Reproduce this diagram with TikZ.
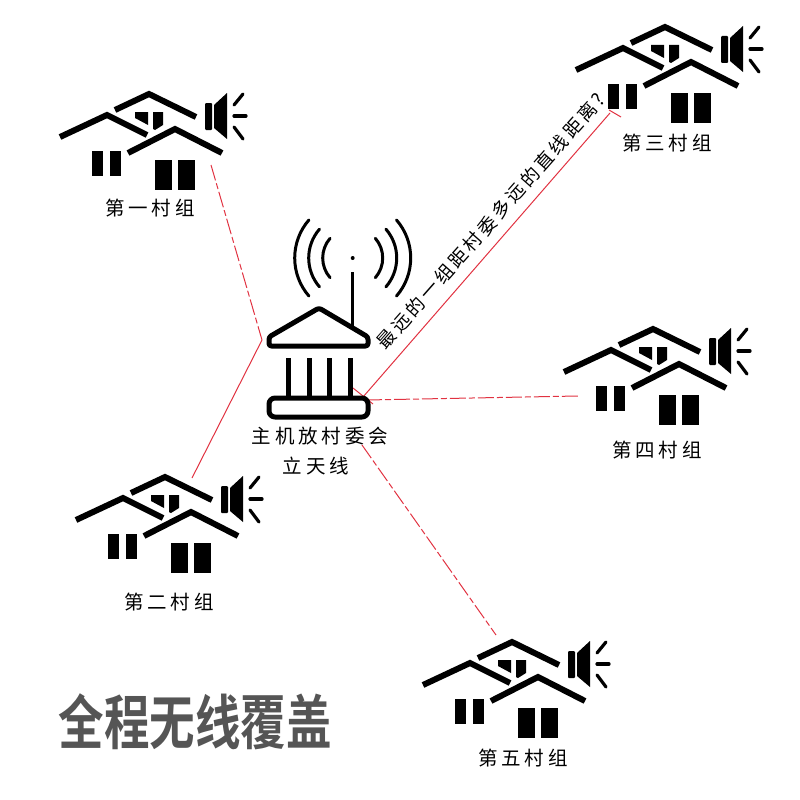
\documentclass[tikz,border=0pt]{standalone}
\usepackage{fontspec}
\setmainfont{Noto Sans CJK SC}
\newfontfamily\lab[LetterSpace=20]{Noto Sans CJK SC}
\newfontfamily\slab[LetterSpace=17]{Noto Sans CJK SC}
\newfontfamily\ttl{Noto Sans CJK SC Bold}
\definecolor{lnred}{RGB}{225,50,65}
\definecolor{ttlgray}{RGB}{85,85,85}
\tikzset{
  roofline/.style={line width=6pt,black,miter limit=10},
  solidbox/.style={fill=black,draw=none},
  rayline/.style={line width=3.2pt,black,line cap=round},
  wave/.style={line width=3pt,black,line cap=round},
  icon/.style={line width=5pt,black,line join=round},
  redsolid/.style={lnred,line width=1pt},
  reddash/.style={lnred,line width=1pt,dash pattern=on 16pt off 3pt on 6pt off 3pt},
  caption/.style={font=\lab\fontsize{19.5}{22}\selectfont,text=black,inner sep=0pt},
  house/.pic={
    \draw[roofline] (60,137)--(107,115)--(147,135);
    \draw[roofline] (115,110)--(149,94)--(196,117);
    \draw[roofline] (128,153)--(175,129)--(222,153);
    \fill[solidbox] (135,112)--(148,112)--(148,125)--(135,118)--cycle;
    \fill[solidbox] (153,112)--(163,112)--(163,125)--(155,130)--(153,129)--cycle;
    \fill[solidbox] (92,151) rectangle (103,176);
    \fill[solidbox] (110,151) rectangle (121,176);
    \fill[solidbox] (155,160) rectangle (172,190);
    \fill[solidbox] (178,160) rectangle (195,190);
    \fill[solidbox,rounded corners=1pt] (205,103) rectangle (212,130);
    \fill[solidbox] (214,105)--(227,93)--(227,139)--(214,128)--cycle;
    \draw[rayline] (234,105)--(243,94);
    \draw[rayline] (234,116)--(246,116);
    \draw[rayline] (234,127)--(243,139);
  }
}
\begin{document}
\begin{tikzpicture}[x=1pt,y=-1pt]
\useasboundingbox (0,0) rectangle (800,800);
% named end points of the links
\coordinate (c1) at (211,165);
\coordinate (bend) at (262,340);
\coordinate (c2) at (192,478);
\coordinate (hub3) at (363,397);
\coordinate (c3) at (610,113);
\coordinate (t1) at (609,110);
\coordinate (t2) at (621,117);
\coordinate (hub4) at (366,400);
\coordinate (c4) at (578,396);
\coordinate (s1) at (353,388);
\coordinate (s2) at (373,404);
\coordinate (hub5) at (362,445);
\coordinate (c5) at (496,635);
% links
\draw[reddash] (c1)--(bend);
\draw[redsolid] (bend)--(c2);
\draw[redsolid] (hub3)--(c3);
\draw[redsolid] (t1)--(t2);
\draw[reddash] (hub4)--(c4);
\draw[redsolid] (s1)--(s2);
\draw[reddash] (hub5)--(c5);
% houses
\pic at (0,0) {house};
\pic at (16,383) {house};
\pic at (516,-67) {house};
\pic at (504,235) {house};
\pic at (363,548) {house};
% antenna
\draw[wave] (352.7,258) ++(139:30) arc[start angle=139,end angle=221,radius=30];
\draw[wave] (352.7,258) ++(139:44) arc[start angle=139,end angle=221,radius=44];
\draw[wave] (352.7,258) ++(139:58) arc[start angle=139,end angle=221,radius=58];
\draw[wave] (352.7,258) ++(41:30) arc[start angle=41,end angle=-41,radius=30];
\draw[wave] (352.7,258) ++(41:44) arc[start angle=41,end angle=-41,radius=44];
\draw[wave] (352.7,258) ++(41:58) arc[start angle=41,end angle=-41,radius=58];
\fill (352.7,258) circle[radius=2];
\draw[line width=3pt] (352.7,272)--(352.7,327);
\draw[icon,rounded corners=2.5pt] (269,346)--(269,337)--(319,308)--(368,337)--(368,346)--cycle;
\foreach \cx in {288,309,329,350} \draw[icon] (\cx,358)--(\cx,398);
\draw[icon,rounded corners=6pt,fill=white] (269,398) rectangle (368,417);
% labels
\node[caption] (l1) at (150,208) {第一村组};
\node[caption] (l2) at (169,602) {第二村组};
\node[caption] (l3) at (667,143) {第三村组};
\node[caption] (l4) at (657,450) {第四村组};
\node[caption] (l5) at (523,758) {第五村组};
\node[caption] (hubA) at (320,436) {主机放村委会};
\node[caption] (hubB) at (316,466) {立天线};
\node[font=\slab\fontsize{18.5}{21}\selectfont,text=black,inner sep=0pt,rotate=48.5] (dist) at (491,221) {最远的一组距村委多远的直线距离?};
\node[font=\ttl\fontsize{45.5}{50}\selectfont,text=ttlgray,inner sep=0pt,yscale=1.3] (title) at (195,722) {全程无线覆盖};
\end{tikzpicture}
\end{document}
